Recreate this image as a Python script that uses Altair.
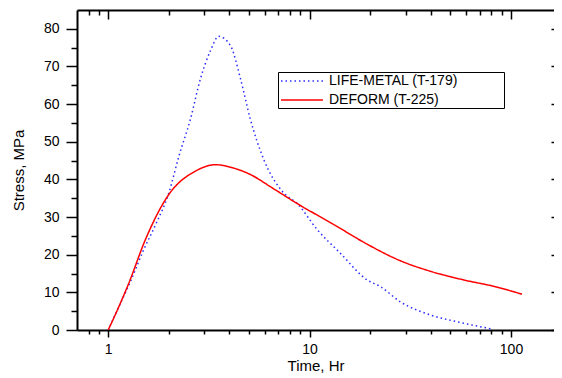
import altair as alt
import pandas as pd

# ---- data ----
series_names = ["LIFE-METAL (T-179)", "DEFORM (T-225)"]

life_x = [1.0, 1.11, 1.29, 1.5, 1.72, 2.0, 2.24, 2.56, 2.87, 3.22, 3.54, 4.05, 4.54,
          5.08, 5.92, 7.44, 8.67, 10.9, 14.2, 19.3, 22.5, 28.2, 39.8, 56.0, 80.0]
life_y = [0.0, 5.3, 12.9, 21.3, 28.0, 36.4, 46.0, 56.0, 66.7, 74.2, 78.0, 75.5, 66.7,
          56.0, 45.3, 36.4, 33.6, 26.7, 20.4, 13.3, 11.5, 7.5, 4.0, 2.0, 0.3]

deform_x = [1.0, 1.1, 1.265, 1.53, 2.0, 2.71, 3.41, 4.2, 5.08, 6.5, 8.67, 13.2, 19.3,
            28.2, 39.8, 58.2, 85.2, 113.4]
deform_y = [0.0, 4.8, 12.4, 24.0, 36.0, 42.2, 43.9, 43.0, 41.3, 37.8, 33.6, 28.0, 22.8,
            18.4, 15.6, 13.3, 11.4, 9.5]

x_major = [1, 10, 100]
x_minor = [0.8, 0.9, 2, 3, 4, 5, 6, 7, 8, 9, 20, 30, 40, 50, 60, 70, 80, 90]
y_major = [0, 10, 20, 30, 40, 50, 60, 70, 80]
y_minor = [5, 15, 25, 35, 45, 55, 65, 75]

df = pd.concat([
    pd.DataFrame({"t": life_x, "s": life_y, "series": series_names[0]}),
    pd.DataFrame({"t": deform_x, "s": deform_y, "series": series_names[1]}),
], ignore_index=True)

FONT = "Liberation Sans"
xs = alt.Scale(type="log", domain=[0.7, 163.5], nice=False)
ys = alt.Scale(domain=[0, 85], nice=False, zero=False)

# blank padding (non-breaking spaces closed by a blank braille cell) widens the legend box
PAD = "\u00a0" * 9 + "\u2800"

legend_cfg = dict(
    title=None, orient="none", legendX=201, legendY=62,
    strokeColor="black", fillColor="white", padding=1,
    symbolType="M-0.86,0L5.14,0", symbolSize=196, symbolStrokeWidth=1.5,
    labelFont=FONT, labelFontSize=14, labelColor="black",
    labelOffset=34, rowPadding=4, labelLimit=400,
    labelExpr="datum.label + '" + PAD + "'",
)

lines = alt.Chart(df).mark_line(strokeWidth=1.5, clip=True, interpolate="monotone").encode(
    x=alt.X("t:Q", scale=xs, axis=alt.Axis(
        orient="bottom", values=x_major, format="d", title="Time, Hr",
        tickSize=7, tickWidth=1.5, tickColor="black", domainWidth=2, domainColor="black",
        labelFont=FONT, labelFontSize=14, labelColor="black", labelPadding=5,
        titleFont=FONT, titleFontSize=15, titleFontWeight="normal", titleColor="black",
        titlePadding=2, grid=False)),
    y=alt.Y("s:Q", scale=ys, axis=alt.Axis(
        orient="left", values=y_major, format="d", title="Stress, MPa",
        tickSize=11, tickWidth=1.5, tickColor="black", domainWidth=2, domainColor="black",
        labelFont=FONT, labelFontSize=14, labelColor="black", labelPadding=7,
        titleFont=FONT, titleFontSize=15, titleFontWeight="normal", titleColor="black",
        titlePadding=17, grid=False)),
    color=alt.Color("series:N", scale=alt.Scale(domain=series_names, range=["#2b2bff", "#ff0000"]),
                    legend=alt.Legend(**legend_cfg)),
    strokeDash=alt.StrokeDash("series:N", scale=alt.Scale(domain=series_names, range=[[1.5, 3], [1, 0]]),
                              legend=alt.Legend(**legend_cfg)),
)

hidden = dict(opacity=0)

minor_bl = alt.Chart(df).mark_point(**hidden).encode(
    x=alt.X("t:Q", scale=xs, axis=alt.Axis(
        orient="bottom", values=x_minor, labels=False, domain=False, title=None,
        tickSize=4, tickWidth=1.5, tickColor="black", grid=False)),
    y=alt.Y("s:Q", scale=ys, axis=alt.Axis(
        orient="left", values=y_minor, labels=False, domain=False, title=None,
        tickSize=6, tickWidth=1.5, tickColor="black", grid=False)),
)

major_tr = alt.Chart(df).mark_point(**hidden).encode(
    x=alt.X("t:Q", scale=xs, axis=alt.Axis(
        orient="top", values=x_major, labels=False, domain=False, title=None, offset=-9,
        tickSize=9, tickWidth=1.5, tickColor="black", grid=False)),
    y=alt.Y("s:Q", scale=ys, axis=alt.Axis(
        orient="right", values=y_major, labels=False, domain=False, title=None, offset=-3,
        tickSize=3, tickWidth=1.5, tickColor="black", grid=False)),
)

minor_t = alt.Chart(df).mark_point(**hidden).encode(
    x=alt.X("t:Q", scale=xs, axis=alt.Axis(
        orient="top", values=x_minor, labels=False, domain=False, title=None, offset=-5,
        tickSize=5, tickWidth=1.5, tickColor="black", grid=False)),
    y=alt.Y("s:Q", scale=ys, axis=None),
)

top_domain = alt.Chart(df).mark_point(**hidden).encode(
    x=alt.X("t:Q", scale=xs, axis=alt.Axis(
        orient="top", values=x_major, labels=False, ticks=False, domain=True, title=None,
        domainWidth=2, domainColor="black", grid=False)),
    y=alt.Y("s:Q", scale=ys, axis=None),
)

chart = alt.layer(lines, minor_bl, major_tr, minor_t, top_domain).resolve_axis(
    x="independent", y="independent"
).properties(
    width=477, height=320,
    autosize=alt.AutoSizeParams(type="none"),
    padding={"left": 69, "top": 2, "right": 0, "bottom": 46},
    background="white",
).configure_view(stroke=None)

chart.save("out.html", embed_options={"renderer": "svg", "actions": False})
